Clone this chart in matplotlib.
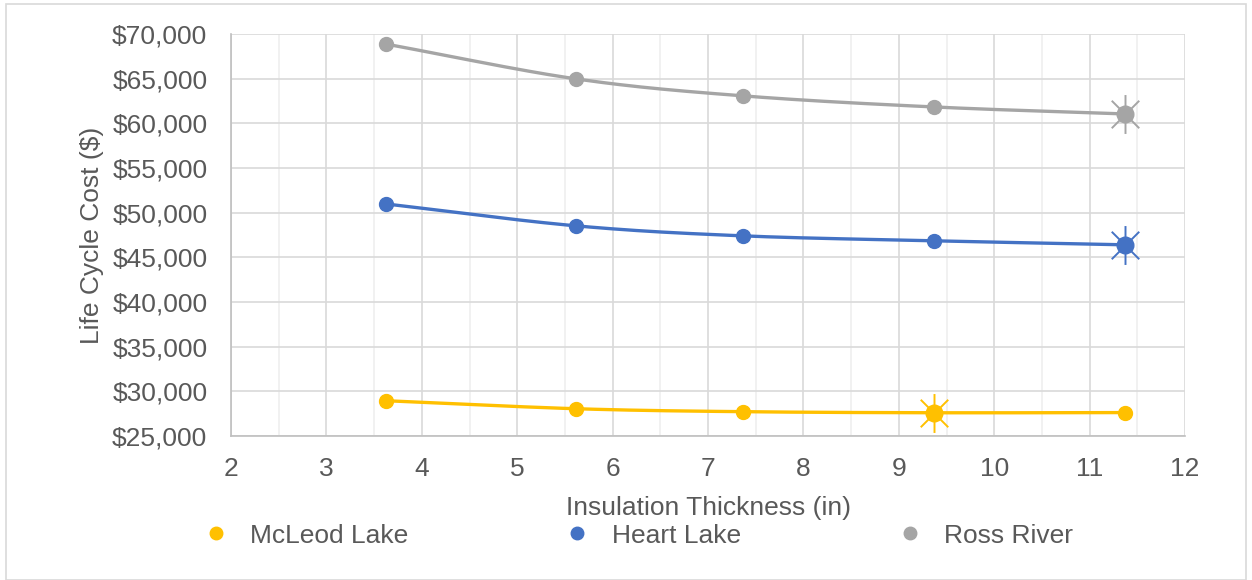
import numpy as np
import matplotlib.pyplot as plt
from matplotlib.path import Path
from matplotlib.patches import Rectangle
from matplotlib.ticker import FuncFormatter, MultipleLocator

plt.rcParams['font.family'] = ['Liberation Sans', 'DejaVu Sans']

# insulation thickness (in) and life cycle cost ($) per site
thickness = [3.62, 5.62, 7.37, 9.37, 11.37]
mcleod = [28950, 28050, 27720, 27600, 27620]
heart = [50980, 48520, 47400, 46850, 46400]
ross = [68880, 64970, 63070, 61830, 61050]
names = ['McLeod Lake', 'Heart Lake', 'Ross River']
colors = ['#FFC000', '#4472C4', '#A5A5A5']
best = [3, 4, 4]  # index of lowest cost point for each site

TXT = '#595959'
FS = 19


def smooth(x, y, n=40):
    # catmull-rom curve through the points, like a smoothed line
    x = np.asarray(x, float)
    y = np.asarray(y, float)
    px = np.concatenate([[2 * x[0] - x[1]], x, [2 * x[-1] - x[-2]]])
    py = np.concatenate([[2 * y[0] - y[1]], y, [2 * y[-1] - y[-2]]])
    xs, ys = [], []
    t = np.linspace(0, 1, n)
    for i in range(1, len(px) - 2):
        for p, out in ((px, xs), (py, ys)):
            p0, p1, p2, p3 = p[i - 1], p[i], p[i + 1], p[i + 2]
            out.extend(0.5 * (2 * p1 + (-p0 + p2) * t
                              + (2 * p0 - 5 * p1 + 4 * p2 - p3) * t ** 2
                              + (-p0 + 3 * p1 - 3 * p2 + p3) * t ** 3))
    return xs, ys


# asterisk marker: an X plus a vertical stroke
d = 0.7071
star = Path([(-d, -d), (d, d), (-d, d), (d, -d), (0, -1), (0, 1)],
            [Path.MOVETO, Path.LINETO, Path.MOVETO, Path.LINETO,
             Path.MOVETO, Path.LINETO])

fig = plt.figure(figsize=(12.52, 5.8), dpi=100)
fig.patches.append(Rectangle((0.005, 0.0), 0.99, 0.993, transform=fig.transFigure,
                             fill=False, edgecolor='#d9d9d9', linewidth=1.2))
ax = fig.add_axes([0.1845, 0.2483, 0.762, 0.6931])

for vals, name, c, b in zip([mcleod, heart, ross], names, colors, best):
    sx, sy = smooth(thickness, vals)
    ax.plot(sx, sy, color=c, linewidth=2.4, zorder=3)
    ax.plot(thickness, vals, 'o', color=c, markersize=10, zorder=4, label=name)
    ax.plot(thickness[b], vals[b], 'o', color=c, markersize=12, zorder=5)
    ax.plot(thickness[b], vals[b], marker=star, color=c, markersize=28,
            markeredgewidth=1.4, linestyle='none', zorder=5)

ax.set_xlim(2, 12)
ax.set_ylim(25000, 70000)
ax.xaxis.set_major_locator(MultipleLocator(1))
ax.xaxis.set_minor_locator(MultipleLocator(0.5))
ax.yaxis.set_major_locator(MultipleLocator(5000))
ax.yaxis.set_major_formatter(FuncFormatter(lambda v, p: '${:,.0f}'.format(v)))

ax.grid(which='major', color='#d9d9d9', linewidth=1.2)
ax.grid(which='minor', axis='x', color='#efefef', linewidth=1.2)
ax.set_axisbelow(True)
for s in ['top', 'right']:
    ax.spines[s].set_visible(False)
for s in ['left', 'bottom']:
    ax.spines[s].set_color('#bfbfbf')
    ax.spines[s].set_linewidth(1.2)
ax.tick_params(which='both', length=0, labelsize=FS, labelcolor=TXT)
ax.tick_params(axis='x', pad=15)
ax.tick_params(axis='y', pad=17)

ax.set_xlabel('Insulation Thickness (in)', fontsize=FS, color=TXT, labelpad=11)
ax.set_ylabel('Life Cycle Cost ($)', fontsize=FS, color=TXT, labelpad=6)

leg = ax.legend(loc='center', bbox_to_anchor=(0.425, -0.248), ncol=3,
                frameon=False, fontsize=FS, handletextpad=0.7, columnspacing=5.8,
                markerscale=0.9, handlelength=1.2)
for t in leg.get_texts():
    t.set_color(TXT)

fig.savefig('out.png', dpi=100)
